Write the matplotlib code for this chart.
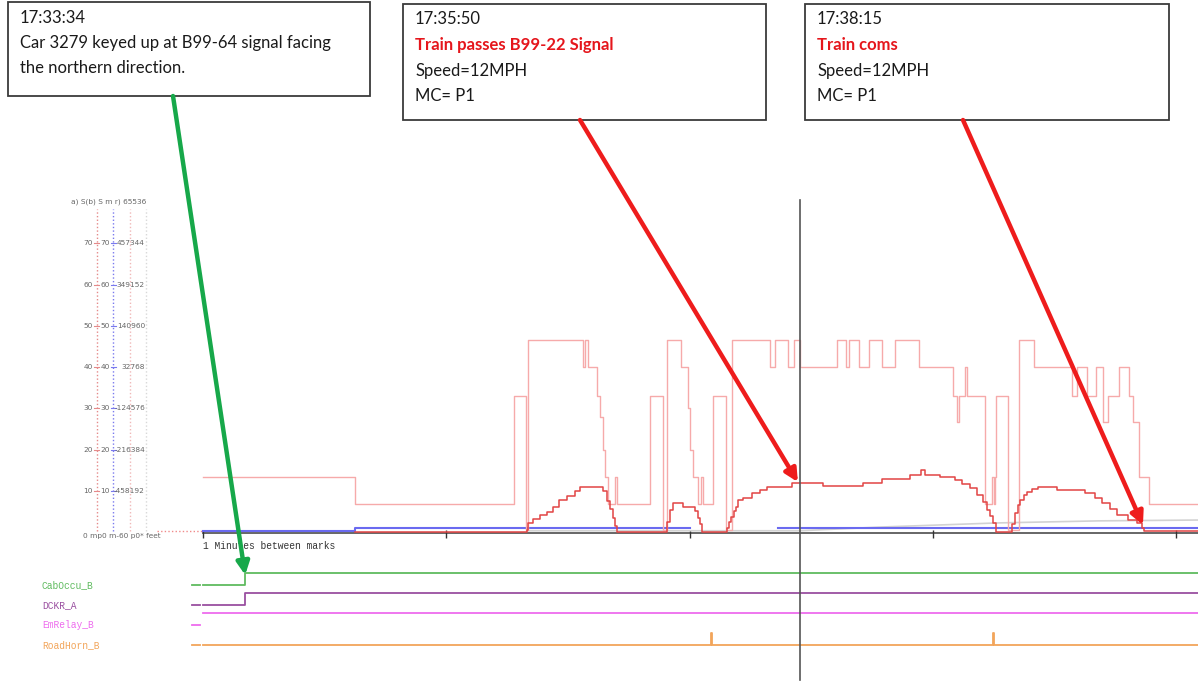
import matplotlib
matplotlib.use("Agg")
import matplotlib.pyplot as plt
import numpy as np
from matplotlib.patches import Rectangle, ConnectionPatch

# ---------------- data (time in seconds from first minute mark) ----------------
minute_ticks = [0, 60, 120, 180, 240]
t_end = 245.4
cursor_t = 147.2

pink_t = [0, 37.5, 76.7, 79.7, 80.1, 93.7, 94.2, 94.9, 97.2, 97.9, 98.6, 99.1, 99.9,
          101.6, 102.1, 110.2, 113.4, 114.4, 117.9, 119.6, 120.1, 120.8, 122.1, 122.8,
          123.3, 125.8, 129.0, 130.5, 139.8, 141.1, 144.3, 145.7, 147.2, 156.4, 158.6,
          159.3, 161.8, 164.2, 167.4, 170.7, 176.6, 185.0, 185.9, 186.4, 187.9, 188.4,
          192.9, 194.6, 195.1, 195.3, 195.6, 198.5, 201.2, 204.9, 214.3, 215.5, 218.0,
          220.2, 222.0, 223.2, 225.9, 228.4, 229.4, 230.8, 233.3, 245.4]
pink_v = [13.3, 6.8, 33, 0.5, 46.5, 40, 46.5, 40, 33, 28, 19.9, 13.4, 6.8,
          13.4, 6.8, 33, 0.5, 46.5, 40, 30, 20, 13.4, 6.8, 13.4,
          6.8, 33, 0.5, 46.5, 40, 46.5, 40, 46.5, 40, 46.5, 40,
          46.5, 40, 46.5, 40, 46.5, 40, 33, 26.7, 33, 40, 33,
          6.8, 13.4, 6.8, 13.4, 33, 0.5, 46.5, 40, 33, 40, 33,
          40, 26.7, 33, 40, 33, 26.7, 13.4, 6.8, 6.8]

speed_t = [37.5, 79.9, 80.1, 81.4, 83.1, 84.8, 86.3, 87.8, 89.8, 91.7, 93.0,
           98.6, 99.6, 100.4, 101.1, 101.6, 102.1,
           114.4, 115.2, 115.9, 118.4, 121.3, 122.1, 122.6, 123.0,
           129.2, 129.7, 130.2, 130.9, 131.4, 131.9, 133.2, 135.4, 137.4, 139.1, 145.3,
           152.9, 162.8, 167.4, 174.4, 177.1, 178.1, 181.8, 185.5, 187.2, 189.2, 190.9,
           192.4, 193.3, 194.1, 194.8, 195.6,
           199.5, 200.2, 201.0, 201.5, 202.5, 203.2, 204.4, 205.9, 210.6, 217.5, 220.0,
           221.7, 223.7, 225.4, 228.1, 230.3, 231.6, 232.1, 245.4]
speed_v = [0, 0.5, 2.2, 3.1, 4.1, 4.9, 6.1, 7.8, 8.8, 9.9, 11.0,
           9.9, 7.5, 5.5, 3.5, 1.5, 0,
           2.5, 5.3, 7.0, 6.1, 5.0, 3.5, 2.0, 0,
           1.0, 2.5, 3.7, 5.0, 6.1, 7.8, 8.3, 9.5, 10.2, 11.0, 11.95,
           11.15, 11.95, 12.9, 13.8, 15.0, 13.8, 13.4, 12.6, 11.6, 10.6, 9.0,
           7.3, 5.3, 4.0, 2.2, 0,
           2.0, 4.5, 6.5, 7.8, 9.0, 9.8, 10.5, 11.0, 10.2, 9.4, 8.3,
           7.0, 5.6, 4.1, 2.9, 2.2, 1.0, 0.3, 0.3]

blue_t = [0, 37.5, 120.1, 141.8, 245.4]
blue_v = [0.2, 1.0, np.nan, 1.0, 1.0]

grey_t = [79.9, 147.2, 167.0, 196.0, 221.0, 245.4]
grey_v = [0.3, 0.3, 1.2, 2.2, 2.7, 2.9]

scale_vals = [70, 60, 50, 40, 30, 20, 10]
scale_third = ["457344", "349152", "140960", "32768", "-124576", "-216384", "-458192"]
scale_header = "a) S(b) S m r) 65536"
scale_footer = "0 mp0 m-60 p0* feet"

signal_names = ["CabOccu_B", "DCKR_A", "EmRelay_B", "RoadHorn_B"]
signal_colors = ["#5fbb5f", "#9a4fa0", "#ee6cee", "#f2a55a"]
signal_init = [0, 0, 0, 0]
signal_t = [[0, 10.4, 245.4],
            [0, 10.4, 245.4],
            [0, 245.4],
            [0, 125.2, 125.5, 194.7, 195.0, 245.4]]
signal_v = [[0, 1, 1],
            [0, 1, 1],
            [1, 1],
            [0, 1, 0, 1, 0, 0]]

callouts = [
    {"lines": ["17:33:34", "Car 3279 keyed up at B99-64 signal facing", "the northern direction."],
     "red": []},
    {"lines": ["17:35:50", "Train passes B99-22 Signal", "Speed=12MPH", "MC= P1"], "red": [1]},
    {"lines": ["17:38:15", "Train coms", "Speed=12MPH", "MC= P1"], "red": [1]},
]

# ---------------- layout ----------------
W, H = 1198, 683
PX_PER_MIN = 243.3
X0 = 203


def px2s(px):
    return (px - X0) * 60.0 / PX_PER_MIN


def py2v(py):
    return (532 - py) / 4.125


fig = plt.figure(figsize=(W / 100, H / 100), dpi=100)
fig.patch.set_facecolor("white")
XL = (px2s(0), px2s(W))

# main trend axes
ax = fig.add_axes([0, 1 - 545 / H, 1, (545 - 150) / H])
ax.set_xlim(*XL)
ax.set_ylim(py2v(545), py2v(150))
ax.axis("off")

ax.plot([0, t_end], [-0.2, -0.2], color="#5a5a5a", lw=1.3, zorder=1)
ax.vlines(minute_ticks, -1.4, 0.5, color="#333333", lw=1.0, zorder=1)
ax.plot(grey_t, grey_v, color="#d2d2d2", lw=1.2, zorder=2)
ax.step(blue_t, blue_v, where="post", color="#6a6af0", lw=1.5, zorder=3)
ax.step(speed_t, speed_v, where="post", color="#e24444", lw=1.1, zorder=4)
ax.step(pink_t, pink_v, where="post", color="#f6aaaa", lw=1.0, zorder=3)
ax.plot([cursor_t, cursor_t], [py2v(200), py2v(545)], color="#555555", lw=1.2, zorder=5)

# left scales
axis_cols = [(97, "#e58a8a"), (113, "#7a7aee"), (130, "#f0b8b8"), (146, "#d8d8d8")]
for xp, c in axis_cols:
    ax.plot([px2s(xp)] * 2, [0.3, 78.3], color=c, lw=1.0, ls=(0, (1, 1.6)))
small = dict(fontsize=5.3, color="#666666", va="center")
for v, third in zip(scale_vals, scale_third):
    ax.text(px2s(93), v, str(v), ha="right", **small)
    ax.text(px2s(110), v, str(v), ha="right", **small)
    ax.text(px2s(145), v, third, ha="right", **small)
    ax.plot([px2s(93.5), px2s(99)], [v, v], color="#e58a8a", lw=0.8)
    ax.plot([px2s(110.5), px2s(116)], [v, v], color="#7a7aee", lw=0.8)
ax.text(px2s(146), 80, scale_header, ha="right", **small)
ax.text(px2s(83), py2v(536), scale_footer, ha="left", **small)
ax.plot([px2s(157), 0], [0.2, 0.2], color="#f08a8a", lw=1.0, ls=(0, (1, 1.6)))

# signal axes
sax = fig.add_axes([0, 0, 1, (683 - 545) / H])
sax.set_xlim(*XL)
sax.set_ylim(683, 545)
sax.axis("off")
sax.text(0, 546, "1 Minutes between marks", ha="left", va="center",
         family="Liberation Mono", fontsize=6.9, color="#333333")
for i, (name, col, init, ts, vs) in enumerate(zip(signal_names, signal_colors, signal_init,
                                                  signal_t, signal_v)):
    base = 585 + 20 * i
    amp = 12
    sax.text(px2s(42), base, name, ha="left", va="center", family="Liberation Mono",
             fontsize=6.9, color=col)
    sax.plot([px2s(192), px2s(200)], [base - amp * init] * 2, color=col, lw=1.3)
    sax.step(ts, base - amp * np.array(vs, dtype=float), where="post", color=col, lw=1.3)
sax.axvline(cursor_t, ymin=0.02, color="#555555", lw=1.2)

# overlay in pixel coordinates for callouts
ov = fig.add_axes([0, 0, 1, 1])
ov.set_xlim(0, W)
ov.set_ylim(H, 0)
ov.axis("off")
ov.patch.set_visible(False)

boxes = [(8, 2, 362, 94, 20, [18, 43, 68]),
         (403, 4, 363, 116, 415, [19, 45, 71, 96]),
         (805, 4, 364, 116, 817, [19, 45, 71, 96])]
for (bx, by, bw, bh, tx, tys), co in zip(boxes, callouts):
    ov.add_patch(Rectangle((bx, by), bw, bh, facecolor="white", edgecolor="#3a3a3a", lw=1.3))
    for j, (line, ty) in enumerate(zip(co["lines"], tys)):
        red = j in co["red"]
        ov.text(tx, ty, line, ha="left", va="center", family="Lato", fontsize=12.0,
                color="#e5161c" if red else "#1a1a1a", fontweight="bold" if red else "normal")

arrows = [((173, 96), (10.4, 575), sax, "#17a84a"),
          ((580, 120), (146.7, 12.1), ax, "#ee1c1c"),
          ((963, 120), (231.8, 1.7), ax, "#ee1c1c")]
for start, end, target, col in arrows:
    cp = ConnectionPatch(xyA=start, coordsA=ov.transData, xyB=end, coordsB=target.transData,
                         arrowstyle="-|>", mutation_scale=19, lw=3.2, color=col,
                         shrinkA=0, shrinkB=0, zorder=10)
    fig.add_artist(cp)

fig.savefig("out.png", dpi=100, facecolor="white")
